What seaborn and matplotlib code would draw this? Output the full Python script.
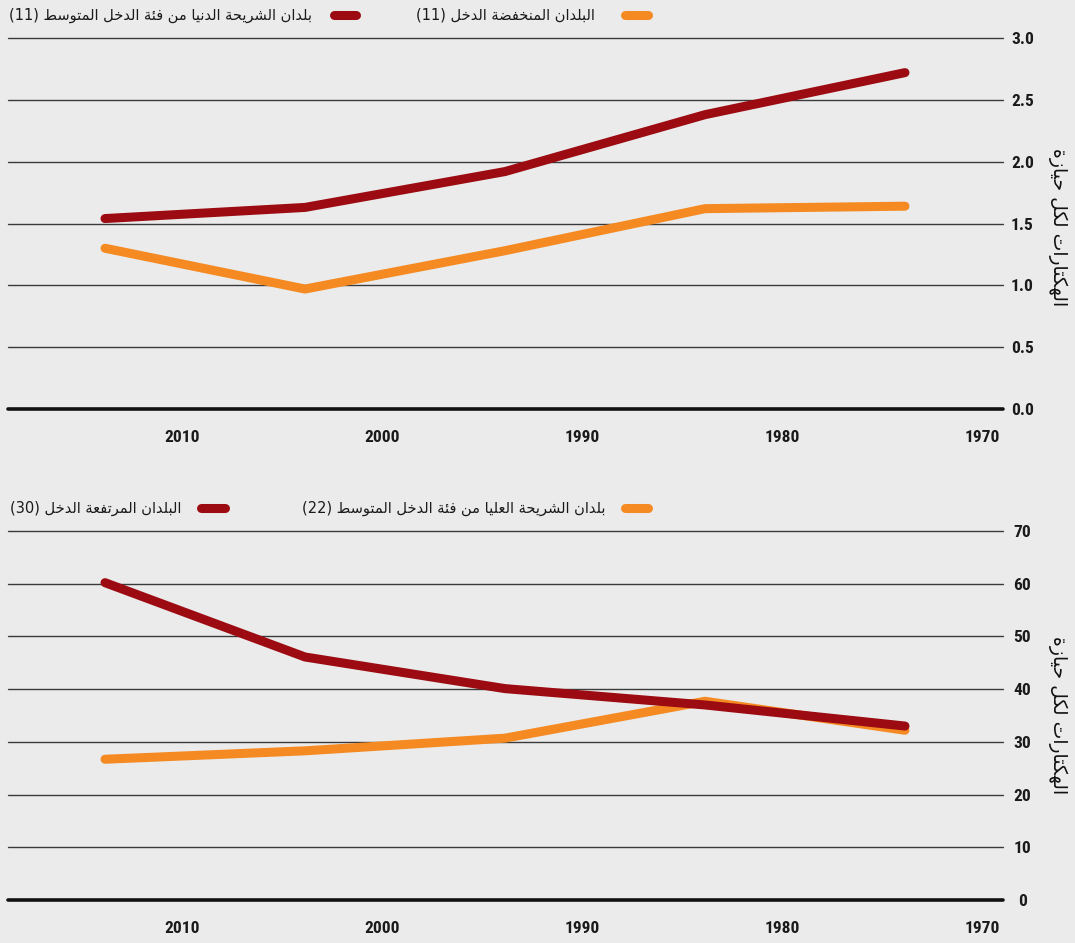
import matplotlib
matplotlib.use("Agg")
import matplotlib.pyplot as plt
import matplotlib.transforms as mtransforms
from matplotlib.lines import Line2D
from matplotlib import font_manager
import seaborn as sns
import pandas as pd

# ---------------- data ----------------
years = [2015, 2005, 1995, 1985, 1975]
tick_years = [2010, 2000, 1990, 1980, 1970]

low_income = [1.30, 0.97, 1.28, 1.62, 1.64]
lower_middle = [1.54, 1.63, 1.92, 2.38, 2.72]
upper_middle = [26.7, 28.3, 30.7, 37.7, 32.2]
high_income = [60.2, 46.1, 40.1, 37.0, 33.0]

name_low = "البلدان المنخفضة الدخل"
name_lower_mid = "بلدان الشريحة الدنيا من فئة الدخل المتوسط"
name_upper_mid = "بلدان الشريحة العليا من فئة الدخل المتوسط"
name_high = "البلدان المرتفعة الدخل"
count_low, count_lower_mid, count_upper_mid, count_high = "(11)", "(11)", "(22)", "(30)"
y_title = "الهكتارات لكل حيازة"

top_yticks = [0.0, 0.5, 1.0, 1.5, 2.0, 2.5, 3.0]
bot_yticks = [0, 10, 20, 30, 40, 50, 60, 70]

RED = "#9C0B11"
ORANGE = "#F58A22"
BG = "#EBEBEB"

# ---------------- minimal Arabic shaping (presentation forms) ----------------
FORMS = {
    "\u0627": ("\uFE8D", "\uFE8E", None, None),
    "\u0623": ("\uFE83", "\uFE84", None, None),
    "\u0625": ("\uFE87", "\uFE88", None, None),
    "\u0622": ("\uFE81", "\uFE82", None, None),
    "\u0628": ("\uFE8F", "\uFE90", "\uFE91", "\uFE92"),
    "\u0629": ("\uFE93", "\uFE94", None, None),
    "\u062A": ("\uFE95", "\uFE96", "\uFE97", "\uFE98"),
    "\u062B": ("\uFE99", "\uFE9A", "\uFE9B", "\uFE9C"),
    "\u062C": ("\uFE9D", "\uFE9E", "\uFE9F", "\uFEA0"),
    "\u062D": ("\uFEA1", "\uFEA2", "\uFEA3", "\uFEA4"),
    "\u062E": ("\uFEA5", "\uFEA6", "\uFEA7", "\uFEA8"),
    "\u062F": ("\uFEA9", "\uFEAA", None, None),
    "\u0630": ("\uFEAB", "\uFEAC", None, None),
    "\u0631": ("\uFEAD", "\uFEAE", None, None),
    "\u0632": ("\uFEAF", "\uFEB0", None, None),
    "\u0633": ("\uFEB1", "\uFEB2", "\uFEB3", "\uFEB4"),
    "\u0634": ("\uFEB5", "\uFEB6", "\uFEB7", "\uFEB8"),
    "\u0635": ("\uFEB9", "\uFEBA", "\uFEBB", "\uFEBC"),
    "\u0636": ("\uFEBD", "\uFEBE", "\uFEBF", "\uFEC0"),
    "\u0637": ("\uFEC1", "\uFEC2", "\uFEC3", "\uFEC4"),
    "\u0638": ("\uFEC5", "\uFEC6", "\uFEC7", "\uFEC8"),
    "\u0639": ("\uFEC9", "\uFECA", "\uFECB", "\uFECC"),
    "\u063A": ("\uFECD", "\uFECE", "\uFECF", "\uFED0"),
    "\u0641": ("\uFED1", "\uFED2", "\uFED3", "\uFED4"),
    "\u0642": ("\uFED5", "\uFED6", "\uFED7", "\uFED8"),
    "\u0643": ("\uFED9", "\uFEDA", "\uFEDB", "\uFEDC"),
    "\u0644": ("\uFEDD", "\uFEDE", "\uFEDF", "\uFEE0"),
    "\u0645": ("\uFEE1", "\uFEE2", "\uFEE3", "\uFEE4"),
    "\u0646": ("\uFEE5", "\uFEE6", "\uFEE7", "\uFEE8"),
    "\u0647": ("\uFEE9", "\uFEEA", "\uFEEB", "\uFEEC"),
    "\u0648": ("\uFEED", "\uFEEE", None, None),
    "\u0649": ("\uFEEF", "\uFEF0", None, None),
    "\u064A": ("\uFEF1", "\uFEF2", "\uFEF3", "\uFEF4"),
    "\u0626": ("\uFE89", "\uFE8A", "\uFE8B", "\uFE8C"),
}


def shape_word(word):
    res = []
    for i, c in enumerate(word):
        if c not in FORMS:
            res.append(c)
            continue
        prev = word[i - 1] if i > 0 else None
        nxt = word[i + 1] if i + 1 < len(word) else None
        jp = prev in FORMS and FORMS[prev][2] is not None
        jn = FORMS[c][2] is not None and nxt in FORMS
        iso, fin, ini, med = FORMS[c]
        res.append(med if (jp and jn) else fin if jp else ini if jn else iso)
    return "".join(reversed(res))


def rtl(text):
    return " ".join(shape_word(w) for w in reversed(text.split(" ")))


# ---------------- fonts ----------------
avail = {(f.name, f.stretch) for f in font_manager.fontManager.ttflist}
names = {n for n, _ in avail}
NUM_FONT = "DejaVu Sans"
NUM_STRETCH = "condensed"
for cand in ["Liberation Sans Narrow", "Roboto Condensed", "Open Sans Condensed"]:
    if cand in names:
        NUM_FONT = cand
        NUM_STRETCH = "normal"
        break
AR_FONT = "DejaVu Sans"

sns.set_theme(style="white")
plt.rcParams["font.family"] = ["DejaVu Sans"]

W, H = 1075, 943
fig = plt.figure(figsize=(W / 100, H / 100), dpi=100, facecolor=BG)


def px_axes(left, top, right, bottom):
    return fig.add_axes([left / W, 1 - bottom / H, (right - left) / W, (bottom - top) / H])


def style_num(lab):
    lab.set_fontfamily(NUM_FONT)
    lab.set_fontstretch(NUM_STRETCH)
    lab.set_fontweight("bold")
    lab.set_fontsize(12.5)
    lab.set_color("#1a1a1a")


def style_axes(ax, yticks, ylim, fmt):
    ax.set_facecolor(BG)
    ax.set_xlim(2020, 1970)
    ax.set_ylim(*ylim)
    for s in ax.spines.values():
        s.set_visible(False)
    for t in yticks:
        if t == 0:
            ax.axhline(t, color="#111111", lw=2.6, xmin=0.003, xmax=0.998, clip_on=False, zorder=1)
        else:
            ax.axhline(t, color="#3a3a3a", lw=1.0, xmin=0.003, xmax=0.998, clip_on=False, zorder=1)
    ax.yaxis.tick_right()
    ax.set_yticks(yticks)
    ax.set_yticklabels([fmt(t) for t in yticks])
    ax.tick_params(axis="y", length=0, pad=12.5)
    for lab in ax.get_yticklabels():
        lab.set_ha("center")
        style_num(lab)
    ax.set_xticks(tick_years)
    ax.set_xticklabels([str(y) for y in tick_years])
    ax.tick_params(axis="x", length=0, pad=15)
    off = mtransforms.ScaledTranslation(-5 / 100, 0, fig.dpi_scale_trans)
    for lab in ax.get_xticklabels():
        lab.set_ha("right")
        lab.set_transform(lab.get_transform() + off)
        style_num(lab)
    ax.set_xlabel("")
    ax.set_ylabel("")


def draw_lines(ax, series, names_, colors):
    rows = []
    for vals, nm in zip(series, names_):
        for yr, v in zip(years, vals):
            rows.append({"year": yr, "value": v, "group": nm})
    df = pd.DataFrame(rows)
    sns.lineplot(data=df, x="year", y="value", hue="group", hue_order=names_,
                 palette=dict(zip(names_, colors)), lw=6.5, sort=False,
                 legend=False, ax=ax, zorder=3)
    for ln in ax.get_lines():
        ln.set_solid_capstyle("round")
        ln.set_solid_joinstyle("round")


# ---------------- top panel ----------------
ax1 = px_axes(5, 38, 1005, 409)
draw_lines(ax1, [low_income, lower_middle], [name_low, name_lower_mid], [ORANGE, RED])
style_axes(ax1, top_yticks, (0, 3.0), lambda t: f"{t:.1f}")

# ---------------- bottom panel ----------------
ax2 = px_axes(5, 531, 1005, 900)
draw_lines(ax2, [upper_middle, high_income], [name_upper_mid, name_high], [ORANGE, RED])
style_axes(ax2, bot_yticks, (0, 70), lambda t: f"{t:d}")

# y titles (rotated, right side)
for yc in (227, 715):
    fig.text(1058 / W, 1 - yc / H, rtl(y_title), rotation=270, ha="center", va="center",
             fontsize=13.5, family=AR_FONT, color="#111111")


# ---------------- legends (RTL: swatch right of text) ----------------
def legend_item(x_sw_left, x_sw_right, y, color, label, count, x_text_right):
    fig.add_artist(Line2D([x_sw_left / W, x_sw_right / W], [1 - y / H, 1 - y / H],
                          transform=fig.transFigure, color=color, lw=6.5,
                          solid_capstyle="round"))
    fig.text(x_text_right / W, 1 - y / H, count + " " + rtl(label), ha="right", va="center",
             fontsize=10.5, family=AR_FONT, color="#1a1a1a")


legend_item(625, 648, 15, ORANGE, name_low, count_low, 595)
legend_item(334, 356, 15, RED, name_lower_mid, count_lower_mid, 312)
legend_item(625, 648, 508, ORANGE, name_upper_mid, count_upper_mid, 605)
legend_item(201, 225, 508, RED, name_high, count_high, 181)

fig.savefig("out.png", dpi=100, facecolor=BG)
